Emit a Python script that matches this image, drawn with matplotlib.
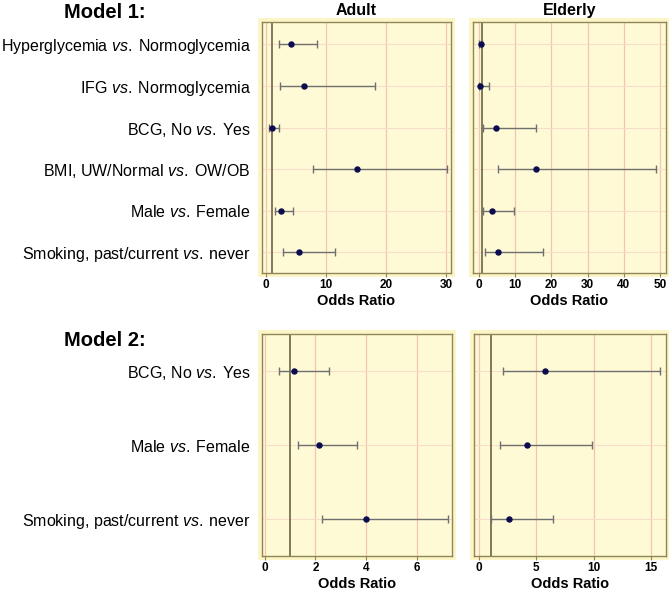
import matplotlib
matplotlib.use("Agg")
import matplotlib.pyplot as plt
from matplotlib.patches import Rectangle

plt.rcParams['font.family'] = ['Liberation Sans', 'DejaVu Sans']
plt.rcParams['mathtext.fontset'] = 'custom'
plt.rcParams['mathtext.rm'] = 'Liberation Sans'
plt.rcParams['mathtext.it'] = 'Liberation Sans:italic'

VS = "$\\mathit{vs.}\\;$"

# Model 1 rows (top to bottom)
labels_m1 = ["Hyperglycemia " + VS + "Normoglycemia",
             "IFG " + VS + "Normoglycemia",
             "BCG, No " + VS + "Yes",
             "BMI, UW/Normal " + VS + "OW/OB",
             "Male " + VS + "Female",
             "Smoking, past/current " + VS + "never"]
adult_m1_or = [4.2, 6.3, 0.95, 15.2, 2.4, 5.5]
adult_m1_lo = [2.2, 2.3, 0.4, 7.8, 1.4, 2.8]
adult_m1_hi = [8.4, 18.2, 2.05, 30.1, 4.4, 11.5]
eld_m1_or = [0.5, 0.4, 4.7, 15.7, 3.6, 5.4]
eld_m1_lo = [0.15, 0.1, 1.2, 5.2, 1.2, 1.6]
eld_m1_hi = [1.0, 2.85, 15.9, 48.8, 9.8, 17.8]

# Model 2 rows
labels_m2 = ["BCG, No " + VS + "Yes",
             "Male " + VS + "Female",
             "Smoking, past/current " + VS + "never"]
adult_m2_or = [1.15, 2.15, 4.0]
adult_m2_lo = [0.57, 1.32, 2.27]
adult_m2_hi = [2.53, 3.63, 7.2]
eld_m2_or = [5.75, 4.15, 2.57]
eld_m2_lo = [2.05, 1.78, 1.05]
eld_m2_hi = [15.8, 9.83, 6.47]

W, H = 669, 592
fig = plt.figure(figsize=(W / 100, H / 100), dpi=100)
fig.patch.set_facecolor('white')


def px_axes(x0, y0, x1, y1):
    ax = fig.add_axes([x0 / W, 1 - y1 / H, (x1 - x0) / W, (y1 - y0) / H])
    b = 4
    fig.patches.append(Rectangle(((x0 - b) / W, 1 - (y1 + b) / H),
                                 (x1 - x0 + 2 * b) / W, (y1 - y0 + 2 * b) / H,
                                 transform=fig.transFigure, facecolor='#fcf5c6',
                                 edgecolor='none', zorder=-5))
    return ax


def forest(ax, orv, lo, hi, xlim, xticks, labels=None):
    n = len(orv)
    y = list(range(n))
    ax.set_facecolor('#fffad6')
    for s in ax.spines.values():
        s.set_color('#8f8558')
        s.set_linewidth(1.0)
    for t in xticks:
        ax.axvline(t, color='#f5c4ae', lw=0.9, zorder=0)
    for yy in y:
        ax.axhline(yy, color='#f7dcc8', lw=0.8, zorder=0)
    ax.axvline(1, color='#5e5838', lw=1.1, zorder=1)
    xerr = [[o - l for o, l in zip(orv, lo)], [h - o for o, h in zip(orv, hi)]]
    ax.errorbar(orv, y, xerr=xerr, fmt='o', color='#0b0b4f', ms=3.6,
                ecolor='#6f6f6f', elinewidth=1.0, capsize=3, capthick=1.0,
                zorder=3)
    ax.set_xlim(*xlim)
    ax.set_ylim(n - 0.5, -0.5 - (0.04 if n == 6 else 0))
    ax.set_xticks(xticks)
    ax.tick_params(axis='x', length=3, width=0.8, color='#8f8558', pad=1.5,
                   labelsize=8.5)
    for lab in ax.get_xticklabels():
        lab.set_fontweight('bold')
    ax.set_yticks(y)
    if labels is not None:
        ax.set_yticklabels(labels, fontsize=11.5)
        ax.tick_params(axis='y', length=0, pad=8)
    else:
        ax.set_yticklabels([])
        ax.tick_params(axis='y', length=0)
    ax.set_xlabel('Odds Ratio', fontsize=10.5, fontweight='bold', labelpad=2)


ax1 = px_axes(262, 22, 451, 273)
forest(ax1, adult_m1_or, adult_m1_lo, adult_m1_hi, (-0.7, 30.8), [0, 10, 20, 30], labels_m1)
ax1.set_title('Adult', fontsize=11.5, fontweight='bold', pad=5)

ax2 = px_axes(473, 22, 666, 273)
forest(ax2, eld_m1_or, eld_m1_lo, eld_m1_hi, (-1.6, 51.6), [0, 10, 20, 30, 40, 50])
ax2.set_title('Elderly', fontsize=11.5, fontweight='bold', pad=5)

ax3 = px_axes(262, 334, 452, 556)
forest(ax3, adult_m2_or, adult_m2_lo, adult_m2_hi, (-0.1, 7.37), [0, 2, 4, 6], labels_m2)

ax4 = px_axes(474, 334, 666, 556)
forest(ax4, eld_m2_or, eld_m2_lo, eld_m2_hi, (-0.46, 16.33), [0, 5, 10, 15])

fig.text(105 / W, 1 - 13 / H, 'Model 1:', fontsize=14.5, fontweight='bold',
         ha='center', va='center')
fig.text(105 / W, 1 - 341 / H, 'Model 2:', fontsize=14.5, fontweight='bold',
         ha='center', va='center')

fig.savefig('out.png', dpi=100)
